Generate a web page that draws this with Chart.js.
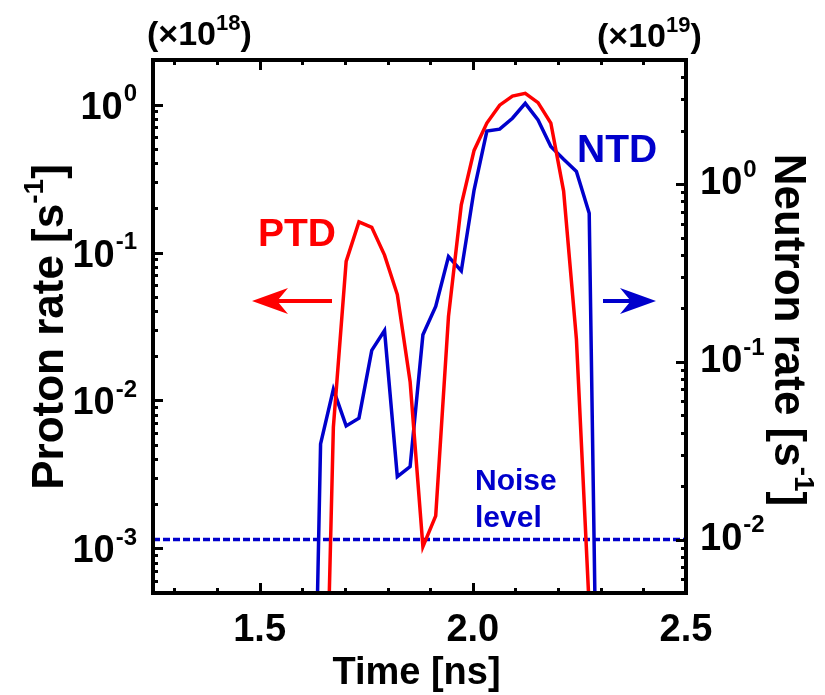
<!DOCTYPE html>
<html>
<head>
<meta charset="utf-8">
<script src="https://cdn.jsdelivr.net/npm/chart.js@4"></script>
<style>
  body { margin: 0; background: #fff; }
  canvas { display: block; }
</style>
</head>
<body>
<canvas id="myChart" width="825" height="695"></canvas>
<script>
// time axis (ns), sampled every 0.03 ns
let timeNs = [1.613, 1.643, 1.673, 1.703, 1.733, 1.763, 1.793, 1.823, 1.853, 1.883, 1.913, 1.943,
              1.973, 2.003, 2.033, 2.063, 2.093, 2.123, 2.153, 2.183, 2.213, 2.243, 2.273, 2.303];

// PTD proton rate (x1e18 /s), left axis
let ptdRate = [null, 2e-6, 6.6e-3, 0.087, 0.161, 0.148, 0.096, 0.052, 0.0134, 1.03e-3, 1.66e-3, 0.037,
               0.21, 0.49, 0.75, 0.99, 1.14, 1.19, 1.03, 0.75, 0.26, 0.026, 4e-4, null];

// NTD neutron rate (x1e19 /s), right axis
let ntdRate = [1e-5, 0.0345, 0.070, 0.0436, 0.0482, 0.116, 0.150, 0.0226, 0.0257, 0.142, 0.205, 0.391,
               0.325, 0.927, 1.99, 2.04, 2.35, 2.85, 2.30, 1.63, 1.38, 1.18, 0.686, 1e-5];

let noiseLevel = 0.01;

let xTicks = ['1.5', '2.0', '2.5'];
let leftDecades = [-3, -2, -1, 0];
let rightDecades = [-2, -1, 0];

let red = '#ff0000';
let blue = '#0000cc';

function toPoints(xs, ys) {
    let pts = [];
    for (let i = 0; i < xs.length; i++) {
        if (ys[i] !== null) pts.push({ x: xs[i], y: ys[i] });
    }
    return pts;
}

// text with an optional superscript part
function drawSup(ctx, base, sup, x, y, align, size, supSize) {
    ctx.font = 'bold ' + size + 'px "Liberation Sans", Arial, sans-serif';
    let wb = ctx.measureText(base).width;
    ctx.font = 'bold ' + supSize + 'px "Liberation Sans", Arial, sans-serif';
    let ws = sup ? ctx.measureText(sup).width + 1 : 0;
    let total = wb + ws;
    let x0 = x;
    if (align === 'right') x0 = x - total;
    if (align === 'center') x0 = x - total / 2;
    ctx.textAlign = 'left';
    ctx.textBaseline = 'alphabetic';
    ctx.font = 'bold ' + size + 'px "Liberation Sans", Arial, sans-serif';
    ctx.fillText(base, x0, y);
    if (sup) {
        ctx.font = 'bold ' + supSize + 'px "Liberation Sans", Arial, sans-serif';
        ctx.fillText(sup, x0 + wb + 1, y - size * 0.45);
    }
}

// a run of [text, isSup] pieces, returns total width
function drawRun(ctx, parts, x, y, size, supSize, measureOnly) {
    let cx = x;
    ctx.textAlign = 'left';
    ctx.textBaseline = 'alphabetic';
    parts.forEach(function(p) {
        let s = p[1] ? supSize : size;
        ctx.font = 'bold ' + s + 'px "Liberation Sans", Arial, sans-serif';
        if (!measureOnly) ctx.fillText(p[0], cx, p[1] ? y - size * 0.45 : y);
        cx += ctx.measureText(p[0]).width;
    });
    return cx - x;
}

function arrow(ctx, x0, x1, y, color) {
    // shaft from x0 to the head, head tip at x1
    let dir = x1 > x0 ? 1 : -1;
    let headLen = 36;
    ctx.strokeStyle = color;
    ctx.fillStyle = color;
    ctx.lineWidth = 4;
    ctx.beginPath();
    ctx.moveTo(x0, y);
    ctx.lineTo(x1 - dir * 10, y);
    ctx.stroke();
    ctx.beginPath();
    ctx.moveTo(x1, y);
    ctx.lineTo(x1 - dir * headLen, y - 13);
    ctx.lineTo(x1 - dir * headLen * 0.7, y);
    ctx.lineTo(x1 - dir * headLen, y + 13);
    ctx.closePath();
    ctx.fill();
}

const framePlugin = {
    id: 'frame',
    afterDraw(chart) {
        let ctx = chart.ctx;
        let a = chart.chartArea;
        let xs = chart.scales.x, yl = chart.scales.y, yr = chart.scales.y1;
        ctx.save();
        ctx.strokeStyle = '#000';
        ctx.fillStyle = '#000';

        // ticks
        ctx.lineWidth = 3;
        ctx.beginPath();
        for (let k = 13; k <= 24; k++) {
            let v = k / 10;
            let px = Math.round(xs.getPixelForValue(v)) + 0.5;
            let len = (k % 5 === 0) ? 10 : 5;
            ctx.moveTo(px, a.bottom); ctx.lineTo(px, a.bottom - len);
            ctx.moveTo(px, a.top); ctx.lineTo(px, a.top + len);
        }
        for (let e = -4; e <= 0; e++) {
            for (let m = 1; m <= 9; m++) {
                let v = m * Math.pow(10, e);
                if (v <= yl.min || v >= yl.max) continue;
                let py = Math.round(yl.getPixelForValue(v)) + 0.5;
                let len = m === 1 ? 10 : 5;
                ctx.moveTo(a.left, py); ctx.lineTo(a.left + len, py);
            }
        }
        for (let e = -3; e <= 0; e++) {
            for (let m = 1; m <= 9; m++) {
                let v = m * Math.pow(10, e);
                if (v <= yr.min || v >= yr.max) continue;
                let py = Math.round(yr.getPixelForValue(v)) + 0.5;
                let len = m === 1 ? 10 : 5;
                ctx.moveTo(a.right, py); ctx.lineTo(a.right - len, py);
            }
        }
        ctx.stroke();

        // frame
        ctx.lineWidth = 4;
        ctx.strokeRect(a.left, a.top, a.right - a.left, a.bottom - a.top);

        // tick labels
        ctx.fillStyle = '#000';
        xTicks.forEach(function(t) {
            let px = xs.getPixelForValue(parseFloat(t));
            drawSup(ctx, t, '', px, 641, 'center', 38, 24);
        });
        leftDecades.forEach(function(e) {
            let py = yl.getPixelForValue(Math.pow(10, e));
            drawSup(ctx, '10', String(e), 137, py + 14, 'right', 38, 24);
        });
        rightDecades.forEach(function(e) {
            let py = yr.getPixelForValue(Math.pow(10, e));
            drawSup(ctx, '10', String(e), 700, py + 10, 'left', 38, 24);
        });

        // multipliers
        drawRun(ctx, [['(\u00d710', false], ['18', true], [')', false]], 147, 45, 34, 22);
        drawRun(ctx, [['(\u00d710', false], ['19', true], [')', false]], 597, 47, 34, 22);

        // axis titles
        drawSup(ctx, 'Time [ns]', '', (a.left + a.right) / 2 - 3, 684, 'center', 38, 24);

        let leftTitle = [['Proton rate [s', false], ['-1', true], [']', false]];
        ctx.save();
        ctx.translate(63, 327);
        ctx.rotate(-Math.PI / 2);
        let w1 = drawRun(ctx, leftTitle, 0, 0, 44, 28, true);
        drawRun(ctx, leftTitle, -w1 / 2, 0, 44, 28);
        ctx.restore();

        let rightTitle = [['Neutron rate [s', false], ['-1', true], [']', false]];
        ctx.save();
        ctx.translate(775, 330);
        ctx.rotate(Math.PI / 2);
        let w2 = drawRun(ctx, rightTitle, 0, 0, 44, 28, true);
        drawRun(ctx, rightTitle, -w2 / 2, 0, 44, 28);
        ctx.restore();

        // annotations
        ctx.fillStyle = red;
        drawSup(ctx, 'PTD', '', 258, 246, 'left', 39, 24);
        arrow(ctx, 332, 252, 301, red);

        ctx.fillStyle = blue;
        drawSup(ctx, 'NTD', '', 577, 162, 'left', 39, 24);
        arrow(ctx, 603, 656, 301, blue);

        ctx.fillStyle = blue;
        drawSup(ctx, 'Noise', '', 475, 490, 'left', 30, 20);
        drawSup(ctx, 'level', '', 475, 527, 'left', 30, 20);

        ctx.restore();
    }
};

let myChart = new Chart(document.getElementById('myChart').getContext('2d'), {
    type: 'line',
    data: {
        datasets: [
            {
                label: 'PTD',
                data: toPoints(timeNs, ptdRate),
                yAxisID: 'y',
                borderColor: red,
                borderWidth: 3.5,
                pointRadius: 0,
                tension: 0,
                fill: false
            },
            {
                label: 'NTD',
                data: toPoints(timeNs, ntdRate),
                yAxisID: 'y1',
                borderColor: blue,
                borderWidth: 3.5,
                pointRadius: 0,
                tension: 0,
                fill: false
            },
            {
                label: 'Noise level',
                data: [{ x: 1.25, y: noiseLevel }, { x: 2.5, y: noiseLevel }],
                yAxisID: 'y1',
                borderColor: blue,
                borderWidth: 3.5,
                borderDash: [7, 3],
                pointRadius: 0,
                fill: false
            }
        ]
    },
    options: {
        responsive: false,
        animation: false,
        devicePixelRatio: 1,
        layout: { padding: { left: 153, right: 139, top: 60, bottom: 102 } },
        plugins: {
            legend: { display: false },
            tooltip: { enabled: false }
        },
        scales: {
            x: { type: 'linear', min: 1.25, max: 2.5, display: false },
            y: { type: 'logarithmic', position: 'left', min: 5e-4, max: 2, display: false },
            y1: { type: 'logarithmic', position: 'right', min: 0.005, max: 5, display: false }
        }
    },
    plugins: [framePlugin]
});
</script>
</body>
</html>
